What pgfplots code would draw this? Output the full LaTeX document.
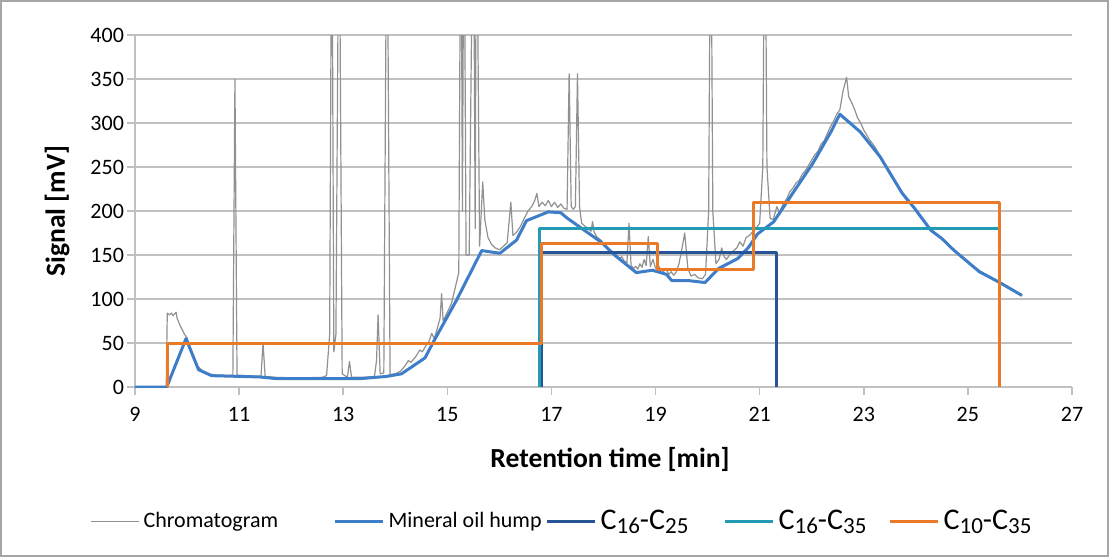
\documentclass[border=0pt]{standalone}
\usepackage{fontspec}
\setmainfont{Carlito}
\usepackage{pgfplots}
\pgfplotsset{compat=1.18}
\definecolor{chrom}{RGB}{145,145,145}
\definecolor{hump}{RGB}{62,125,199}
\definecolor{dblue}{RGB}{38,84,150}
\definecolor{teal2}{RGB}{35,155,180}
\definecolor{orng}{RGB}{235,122,40}
\definecolor{gridc}{RGB}{192,192,192}
\newcommand{\Cn}[2]{{\fontsize{15}{17}\selectfont C}\raisebox{-0.35ex}{\fontsize{11.5}{13}\selectfont #1}{\fontsize{15}{17}\selectfont -C}\raisebox{-0.35ex}{\fontsize{11.5}{13}\selectfont #2}}
\begin{document}
\begin{tikzpicture}
\begin{axis}[
  scale only axis, width=468.5pt, height=176pt,
  xmin=9, xmax=27, ymin=0, ymax=400,
  xtick={9,11,...,27}, ytick={0,50,...,400},
  axis x line*=bottom, axis y line*=left,
  x axis line style={-}, y axis line style={-},
  axis line style={draw=gridc, line width=0.75pt},
  ymajorgrids, major grid style={draw=gridc, line width=0.75pt},
  tick align=outside, major tick length=4pt,
  tick style={draw=gridc, line width=0.75pt},
  /pgf/number format/assume math mode=true,
  ticklabel style={font=\fontsize{11}{13}\selectfont, text=black},
  xticklabel style={yshift=-2.5pt},
  yticklabel style={xshift=2pt},
  xlabel={Retention time [min]}, ylabel={Signal [mV]},
  xlabel style={font=\bfseries\fontsize{13.8}{16}\selectfont, at={(axis description cs:0.507,-0.207)}, anchor=center},
  ylabel style={font=\bfseries\fontsize{13.8}{16}\selectfont, at={(axis description cs:-0.0832,0.5)}, anchor=center},
  legend columns=5,
  legend style={draw=none, fill=none, at={(axis description cs:-0.048,-0.381)}, anchor=west, inner sep=0pt,
    font=\fontsize{11}{13}\selectfont,
    /tikz/every even column/.append style={column sep=0pt},
    nodes={inner xsep=2pt}},
  legend image code/.code={\draw[#1] (0pt,0pt) -- (24pt,0pt);},
  legend cell align=left,
  line join=round,
]
% Chromatogram
\addplot[chrom, line width=0.6pt] coordinates {
(9.00,0) (9.60,0) (9.62,84) (9.66,82) (9.70,84) (9.73,81) (9.76,83) (9.79,85) (9.81,78)
(9.85,72) (9.90,66) (9.95,60) (10.00,56) (10.05,46) (10.12,36) (10.20,24) (10.30,18)
(10.45,14.5) (10.60,13.5) (10.80,13) (10.88,13.5) (10.92,350) (10.96,13.5) (11.10,13)
(11.30,12.5) (11.42,12) (11.46,50) (11.50,12) (11.70,11) (12.00,10.5) (12.30,10.5)
(12.60,11) (12.68,13) (12.74,60) (12.78,600) (12.82,40) (12.86,60) (12.92,600) (12.98,15)
(13.08,11) (13.12,29) (13.16,11) (13.40,11) (13.60,12) (13.64,30) (13.67,82) (13.71,15)
(13.78,16) (13.84,600) (13.90,14) (14.00,15) (14.10,18) (14.20,25) (14.25,30) (14.30,28)
(14.40,35) (14.47,42) (14.52,40) (14.60,48) (14.65,52) (14.70,61) (14.75,55) (14.80,65)
(14.86,78) (14.89,106) (14.92,75) (15.00,85) (15.08,95) (15.14,110) (15.22,130)
(15.26,600) (15.29,200) (15.32,600) (15.36,150) (15.42,150) (15.50,600) (15.535,180)
(15.56,600) (15.62,160) (15.68,233) (15.72,190) (15.78,170) (15.85,162) (15.92,158)
(16.00,156) (16.08,160) (16.15,164) (16.22,210) (16.26,172) (16.33,176) (16.40,182)
(16.48,192) (16.55,200) (16.62,205) (16.68,212) (16.72,220) (16.76,205) (16.82,210)
(16.88,206) (16.94,212) (17.00,205) (17.06,210) (17.12,204) (17.18,208) (17.24,203)
(17.30,202) (17.34,356) (17.38,205) (17.42,202) (17.46,205) (17.50,356) (17.54,205)
(17.58,186) (17.64,183) (17.70,180) (17.76,177) (17.79,188) (17.82,176) (17.88,170)
(17.95,167) (18.00,163) (18.05,160) (18.10,157) (18.15,154) (18.20,151) (18.25,150)
(18.30,146) (18.35,148) (18.40,143) (18.45,141) (18.49,186) (18.53,138) (18.58,135)
(18.62,137) (18.66,134) (18.70,140) (18.74,136) (18.78,145) (18.82,138) (18.86,171)
(18.90,137) (18.95,145) (19.00,135) (19.05,138) (19.10,134) (19.15,131) (19.20,135)
(19.25,128) (19.30,131) (19.35,127) (19.40,131) (19.45,140) (19.50,155) (19.56,175)
(19.62,135) (19.68,126) (19.75,128) (19.82,124) (19.90,123) (19.96,128) (20.02,200)
(20.06,600) (20.10,200) (20.16,140) (20.22,145) (20.27,158) (20.32,148) (20.36,145)
(20.42,150) (20.50,155) (20.56,158) (20.62,165) (20.68,160) (20.74,170) (20.80,172)
(20.86,176) (20.95,182) (21.00,186) (21.06,250) (21.10,600) (21.14,250) (21.20,192)
(21.26,190) (21.33,205) (21.38,198) (21.45,208) (21.52,214) (21.58,222) (21.64,226)
(21.70,232) (21.76,235) (21.82,242) (21.88,246) (21.94,252) (22.00,258) (22.06,264)
(22.12,268) (22.18,276) (22.24,280) (22.30,288) (22.36,296) (22.42,302) (22.48,310)
(22.54,315) (22.60,336) (22.67,352) (22.71,330) (22.76,324) (22.82,316) (22.88,306)
(22.94,300) (23.00,292) (23.10,282) (23.20,274) (23.30,264) (23.40,252) (23.50,242)
(23.60,233) (23.70,224) (23.80,214) (23.95,205) (24.10,192) (24.30,178) (24.50,169)
(24.75,155) (25.00,142) (25.25,131) (25.60,119) (26.04,104)
};
\addlegendentry{\makebox[93pt][l]{Chromatogram}}
% Mineral oil hump
\addplot[hump, line width=1.5pt] coordinates {
(9.00,0) (9.61,0) (9.98,55) (10.22,19.7) (10.47,12.9) (11.40,11.4) (11.72,9.5) (12.61,9.5)
(13.32,9.5) (13.83,12) (14.12,15) (14.57,33) (14.73,51) (15.18,99) (15.66,155) (16.01,152)
(16.33,167) (16.52,189) (16.94,199) (17.18,198) (17.30,192) (17.97,164) (18.21,150)
(18.63,130) (18.94,132.7) (19.21,128) (19.31,121) (19.62,121) (19.95,118.7) (20.21,134.6)
(20.58,146) (20.79,159) (20.96,174) (21.27,187.7) (21.61,218) (22.02,254) (22.37,290)
(22.54,310) (22.93,290) (23.31,262) (23.74,220) (23.95,205) (24.29,178) (24.50,168.7)
(24.73,155.5) (25.22,131) (25.59,119.4) (26.04,104)
};
\addlegendentry{\makebox[76.5pt][l]{Mineral oil hump}}
% C16-C25
\addplot[dblue, line width=1.5pt] coordinates {
(16.80,0) (16.80,153) (21.32,153) (21.32,0)
};
\addlegendentry{\makebox[59.5pt][l]{\Cn{16}{25}}}
% C16-C35
\addplot[teal2, line width=1.5pt] coordinates {
(16.78,0) (16.78,180) (25.60,180) (25.60,0)
};
\addlegendentry{\makebox[53pt][l]{\Cn{16}{35}}}
% C10-C35
\addplot[orng, line width=1.5pt] coordinates {
(9.63,0) (9.63,50) (16.81,50) (16.81,163) (19.03,163) (19.03,134) (20.89,134) (20.89,210)
(25.61,210) (25.61,0)
};
\addlegendentry{\Cn{10}{35}}
\end{axis}
\draw[gray!70, line width=1pt] (-67pt,-84.5pt) rectangle (486.5pt,193pt);
\end{tikzpicture}
\end{document}
